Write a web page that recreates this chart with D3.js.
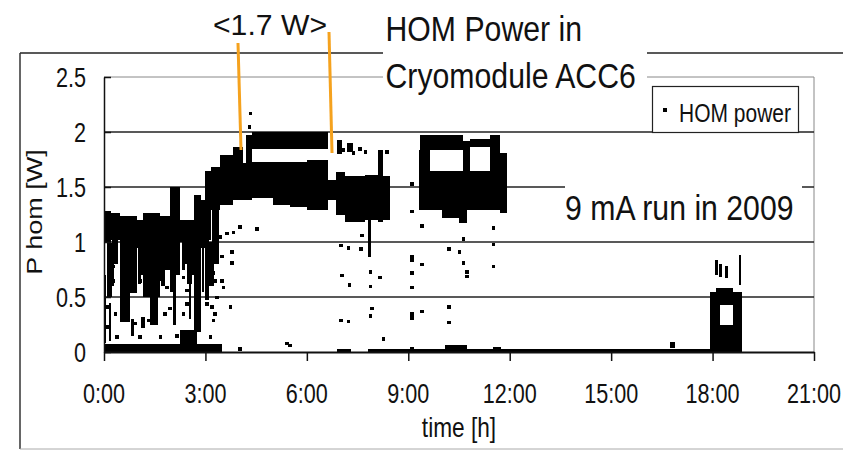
<!DOCTYPE html>
<html>
<head>
<meta charset="utf-8">
<script src="https://cdn.jsdelivr.net/npm/d3@7"></script>
<style>
body { margin: 0; background: #fff; }
text { font-family: Arial, "Liberation Sans", sans-serif; fill: #111; }
</style>
</head>
<body>
<div id="chart"></div>
<script>
var width = 856;
var height = 451;

// axis ticks
var hourTicks = [0, 3, 6, 9, 12, 15, 18, 21];
var hourLabels = ['0:00', '3:00', '6:00', '9:00', '12:00', '15:00', '18:00', '21:00'];
var powerTicks = [0, 0.5, 1, 1.5, 2, 2.5];
var powerLabels = ['0', '0.5', '1', '1.5', '2', '2.5'];

// dense stretches of HOM power samples: [t start (h), t end (h), P low (W), P high (W)]
var denseBlocks = [
  // noisy start 0-3 h
  [0.00, 0.22, 0.99, 1.28], [0.09, 0.24, 0.50, 0.99], [0.00, 0.06, 0.30, 0.70],
  [0.22, 0.47, 1.02, 1.26], [0.47, 0.98, 0.54, 1.24], [0.47, 0.77, 0.27, 0.54],
  [0.98, 1.15, 0.95, 1.20], [1.15, 1.65, 0.50, 1.26], [1.36, 1.60, 0.25, 0.50],
  [1.65, 1.95, 0.90, 1.24], [1.95, 2.25, 0.95, 1.50], [1.95, 2.13, 0.55, 0.95],
  [2.25, 2.65, 1.00, 1.20], [2.45, 2.60, 0.62, 1.00], [2.65, 2.86, 0.18, 1.43],
  [2.86, 3.00, 0.95, 1.38], [0.00, 3.50, 0.00, 0.07], [2.25, 2.75, 0.07, 0.20],
  [0.30, 0.40, 0.80, 1.02], [1.00, 1.08, 0.62, 0.95], [1.70, 1.80, 0.60, 0.90],
  [2.30, 2.40, 0.75, 1.00], [2.90, 2.97, 0.55, 0.95], [0.00, 0.05, 0.08, 0.30],
  [0.15, 0.22, 0.10, 0.45], [2.05, 2.12, 0.25, 0.55], [2.50, 2.58, 0.30, 0.62],
  [0.80, 0.88, 0.15, 0.30], [1.10, 1.20, 0.22, 0.32],
  [0.24, 0.30, 0.60, 1.02], [1.08, 1.15, 0.70, 0.95], [1.65, 1.70, 0.65, 0.90],
  [1.80, 1.95, 0.75, 0.90], [2.13, 2.25, 0.70, 0.95], [2.40, 2.45, 0.80, 1.00],
  [2.60, 2.65, 0.70, 1.00],
  // ramp 3-4.4 h
  [3.00, 3.15, 1.02, 1.65], [3.00, 3.12, 0.47, 1.02], [3.15, 3.43, 1.29, 1.68],
  [3.20, 3.40, 1.00, 1.29], [3.43, 3.82, 1.34, 1.79], [3.82, 4.11, 1.38, 1.86],
  [4.11, 4.38, 1.38, 1.72], [4.20, 4.38, 1.72, 1.97], [3.12, 3.25, 0.60, 1.00],
  [3.25, 3.40, 0.80, 1.00],
  // two level plateau
  [4.38, 6.62, 1.85, 2.00], [4.38, 5.00, 1.40, 1.73], [5.00, 5.50, 1.34, 1.73],
  [5.50, 6.00, 1.32, 1.73], [6.00, 6.62, 1.29, 1.75],
  // 6.6-8.5 h
  [6.62, 6.85, 1.38, 1.56], [6.85, 7.13, 1.25, 1.64], [7.13, 7.72, 1.18, 1.60],
  [7.72, 8.10, 1.20, 1.61], [7.80, 7.90, 0.86, 1.20], [8.10, 8.25, 1.18, 1.84],
  [8.25, 8.46, 1.20, 1.60], [6.90, 7.05, 1.80, 1.93], [7.20, 7.35, 1.82, 1.90],
  // 9.3-11.9 h
  [9.32, 11.90, 1.29, 1.65], [10.00, 10.50, 1.22, 1.29], [10.50, 10.73, 1.17, 1.29],
  [9.35, 10.62, 1.84, 1.97], [9.32, 9.64, 1.65, 1.84], [10.62, 10.83, 1.65, 1.92],
  [10.83, 11.42, 1.86, 1.94], [11.42, 11.71, 1.65, 1.97], [11.71, 11.92, 1.26, 1.81],
  // zero line
  [6.90, 7.30, 0.00, 0.025], [7.80, 8.15, 0.00, 0.03], [8.15, 17.92, 0.00, 0.025],
  [10.10, 10.75, 0.00, 0.06], [11.50, 11.75, 0.00, 0.05], [16.74, 16.90, 0.04, 0.09],
  // 18-19 h
  [17.92, 18.87, 0.00, 0.25], [17.92, 18.22, 0.25, 0.55], [18.60, 18.87, 0.25, 0.55],
  [18.10, 18.60, 0.43, 0.58], [18.07, 18.15, 0.70, 0.84], [18.20, 18.28, 0.68, 0.80],
  [18.37, 18.45, 0.67, 0.78], [18.79, 18.85, 0.61, 0.88]
];

// single samples: [t (h), P (W)]
var loneSamples = [
  [0.08, 0.41], [0.08, 0.23], [0.33, 0.35], [0.92, 0.26], [1.31, 0.29], [1.80, 0.35],
  [1.95, 0.40], [2.15, 0.15], [2.35, 0.35], [2.45, 0.44], [3.04, 0.44], [3.23, 0.29],
  [3.14, 0.14], [0.37, 0.14], [1.06, 0.14], [1.66, 0.14], [0.28, 0.78], [0.28, 0.65],
  [1.06, 0.81], [1.06, 0.65], [1.85, 0.78], [1.85, 0.59], [2.35, 0.84], [2.35, 0.68],
  [2.45, 0.56], [3.14, 0.78], [3.28, 0.65], [3.33, 0.50],
  [3.14, 0.90], [3.23, 0.72], [3.18, 0.41], [3.28, 0.35], [3.43, 1.05], [3.48, 0.87],
  [3.48, 0.65], [3.53, 0.59], [3.63, 1.08], [3.78, 0.91], [3.78, 0.81], [3.73, 0.41],
  [3.83, 1.09], [4.02, 1.14], [4.52, 1.12], [4.32, 2.17], [4.30, 2.05], [4.02, 0.03],
  [5.40, 0.08], [5.50, 0.06],
  [7.62, 1.06], [7.00, 0.97], [7.23, 0.95], [7.59, 0.94], [7.87, 0.73], [8.16, 0.68],
  [7.87, 0.60], [7.03, 0.70], [7.26, 0.61], [7.00, 0.29], [7.23, 0.28], [7.92, 0.40],
  [7.87, 0.33], [8.26, 0.12], [6.98, 1.90], [7.08, 1.84], [7.28, 1.87], [7.37, 1.81],
  [7.57, 1.85], [7.72, 1.82], [8.36, 1.82],
  [9.10, 1.53], [9.10, 1.28], [9.10, 0.87], [9.10, 0.84], [9.10, 0.72], [9.10, 0.59],
  [9.10, 0.35], [9.10, 0.31], [9.10, 0.03], [9.40, 1.15], [9.40, 0.80], [9.40, 0.37],
  [11.51, 1.13], [10.63, 1.03], [11.51, 0.98], [10.19, 0.94], [10.51, 0.91], [10.63, 0.81],
  [10.73, 0.73], [10.73, 0.69], [11.51, 0.78], [10.19, 0.41], [10.19, 0.27]
];

var svg = d3.select('#chart').append('svg')
  .attr('width', width)
  .attr('height', height);

var x = d3.scaleLinear().domain([0, 21]).range([104, 814]);
var y = d3.scaleLinear().domain([0, 2.5]).range([352, 77]);

// chart area frame
svg.append('line').attr('x1', 20).attr('x2', 843).attr('y1', 53).attr('y2', 53)
  .attr('stroke', '#222').attr('stroke-width', 1.5);
svg.append('line').attr('x1', 20).attr('x2', 20).attr('y1', 53).attr('y2', 449)
  .attr('stroke', '#333').attr('stroke-width', 1.5);
svg.append('line').attr('x1', 20).attr('x2', 843).attr('y1', 449).attr('y2', 449)
  .attr('stroke', '#aaa').attr('stroke-width', 1);

// plot area border (gray) top + right
svg.append('line').attr('x1', x(0)).attr('x2', x(21)).attr('y1', y(2.5)).attr('y2', y(2.5))
  .attr('stroke', '#888').attr('stroke-width', 1);
svg.append('line').attr('x1', x(21)).attr('x2', x(21)).attr('y1', y(2.5)).attr('y2', y(0))
  .attr('stroke', '#888').attr('stroke-width', 1);

// gridlines
svg.append('g').selectAll('line')
  .data(powerTicks.filter(function (d) { return d > 0 && d < 2.5; }))
  .enter().append('line')
  .attr('x1', x(0)).attr('x2', x(21))
  .attr('y1', function (d) { return y(d); })
  .attr('y2', function (d) { return y(d); })
  .attr('stroke', '#222').attr('stroke-width', 1.6);

// data
var marks = svg.append('g').attr('shape-rendering', 'crispEdges');
marks.selectAll('rect.blk')
  .data(denseBlocks)
  .enter().append('rect')
  .attr('class', 'blk')
  .attr('x', function (d) { return x(d[0]); })
  .attr('width', function (d) { return Math.max(2, x(d[1]) - x(d[0])); })
  .attr('y', function (d) { return y(d[3]); })
  .attr('height', function (d) { return Math.max(2.5, y(d[2]) - y(d[3])); })
  .attr('fill', '#000');

marks.selectAll('rect.pt')
  .data(loneSamples)
  .enter().append('rect')
  .attr('class', 'pt')
  .attr('x', function (d) { return x(d[0]) - 1.5; })
  .attr('y', function (d) { return y(d[1]) - 1.5; })
  .attr('width', 3.5).attr('height', 3.5)
  .attr('fill', '#000');

// axes
var yAxis = svg.append('g')
  .attr('transform', 'translate(' + x(0) + ',0)')
  .call(d3.axisLeft(y).tickValues(powerTicks).tickSizeInner(-7).tickSizeOuter(0).tickFormat(''));
yAxis.select('.domain').attr('stroke', '#111').attr('stroke-width', 1.5);
yAxis.selectAll('.tick line').attr('stroke', '#111').attr('stroke-width', 1.5);

var xAxis = svg.append('g')
  .attr('transform', 'translate(0,' + y(0) + ')')
  .call(d3.axisBottom(x).tickValues(hourTicks).tickSize(9).tickSizeOuter(0).tickFormat(''));
xAxis.select('.domain').attr('stroke', '#111').attr('stroke-width', 1.8);
xAxis.selectAll('.tick line').attr('stroke', '#111').attr('stroke-width', 1.5);

var squeeze = 0.84;

svg.append('g').selectAll('text')
  .data(powerTicks)
  .enter().append('text')
  .attr('transform', function (d) { return 'translate(86,' + (y(d) + 10) + ') scale(0.8,1)'; })
  .attr('text-anchor', 'end')
  .style('font-size', '27px')
  .text(function (d, i) { return powerLabels[i]; });

svg.append('g').selectAll('text')
  .data(hourTicks)
  .enter().append('text')
  .attr('transform', function (d) { return 'translate(' + x(d) + ',403) scale(0.8,1)'; })
  .attr('text-anchor', 'middle')
  .style('font-size', '27px')
  .text(function (d, i) { return hourLabels[i]; });

svg.append('text')
  .attr('transform', 'translate(459,437) scale(' + squeeze + ',1)')
  .attr('text-anchor', 'middle')
  .style('font-size', '27px')
  .text('time [h]');

svg.append('text')
  .attr('transform', 'translate(42,212) scale(' + squeeze + ',1) rotate(-90)')
  .attr('text-anchor', 'middle')
  .style('font-size', '27px')
  .text('P hom [W]');

// title box
svg.append('rect').attr('x', 383).attr('y', 2).attr('width', 264).attr('height', 96).attr('fill', '#fff');
svg.append('text')
  .attr('transform', 'translate(385.5,41) scale(' + squeeze + ',1)')
  .style('font-size', '36px')
  .text('HOM Power in');
svg.append('text')
  .attr('transform', 'translate(385.5,88) scale(' + squeeze + ',1)')
  .style('font-size', '36px')
  .text('Cryomodule ACC6');

// run note
svg.append('rect').attr('x', 565).attr('y', 184).attr('width', 237).attr('height', 42).attr('fill', '#fff');
svg.append('text')
  .attr('transform', 'translate(565,220) scale(' + squeeze + ',1)')
  .style('font-size', '36px')
  .text('9 mA run in 2009');

// legend
svg.append('rect').attr('x', 652.5).attr('y', 86.5).attr('width', 146).attr('height', 46)
  .attr('fill', '#fff').attr('stroke', '#222').attr('stroke-width', 1.2);
svg.append('rect').attr('x', 663).attr('y', 108).attr('width', 4).attr('height', 4).attr('fill', '#000');
svg.append('text')
  .attr('transform', 'translate(679,122) scale(' + squeeze + ',1)')
  .style('font-size', '25px')
  .text('HOM power');

// mean power annotation
svg.append('text')
  .attr('x', 213).attr('y', 35)
  .attr('textLength', 114).attr('lengthAdjust', 'spacingAndGlyphs')
  .style('font-size', '30px')
  .text('<1.7 W>');
svg.append('line').attr('x1', 238).attr('y1', 43).attr('x2', 241).attr('y2', 150)
  .attr('stroke', '#f5a21e').attr('stroke-width', 3);
svg.append('line').attr('x1', 329).attr('y1', 32).attr('x2', 332).attr('y2', 153)
  .attr('stroke', '#f5a21e').attr('stroke-width', 3);
</script>
</body>
</html>
